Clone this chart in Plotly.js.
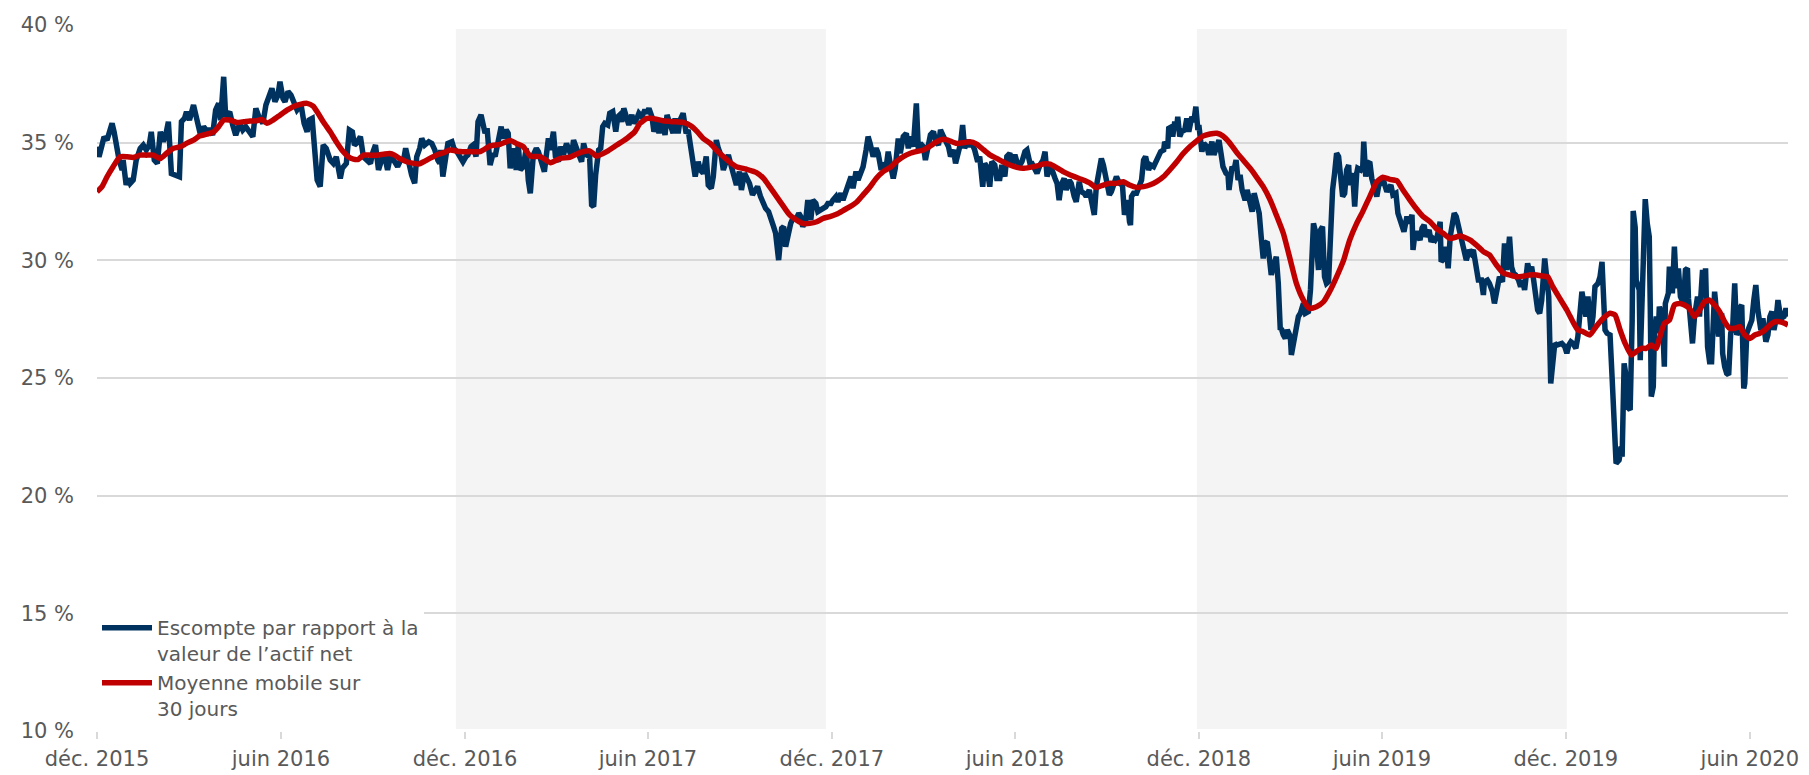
<!DOCTYPE html>
<html>
<head>
<meta charset="utf-8">
<script src="https://cdn.plot.ly/plotly-3.0.1.min.js"></script>
<style>
html,body{margin:0;padding:0;background:#ffffff;}
#chart{width:1809px;height:775px;}
</style>
</head>
<body>
<div id="chart"></div>
<script>
// Series start date; x values below are day offsets from this date
const startDate = '2015-12-01';

// Escompte par rapport à la valeur de l'actif net: [day offset, %]
const discountSeries = [
[0,34.83],[2,34.40],[5,34.90],[7,35.25],[10,35.11],[12,35.46],[15,35.82],[17,35.46],[20,34.69],[22,34.26],
[25,33.84],[26,34.26],[29,33.20],[31,33.48],[33,33.27],[36,33.41],[39,34.26],[43,34.76],[46,34.90],[49,34.69],
[52,34.90],[54,35.46],[57,34.26],[60,34.12],[63,35.46],[66,35.04],[69,35.46],[71,35.89],[74,33.69],[78,33.62],
[82,33.55],[84,35.89],[87,36.03],[89,36.31],[92,35.96],[96,36.60],[98,36.24],[101,35.89],[103,35.32],[106,35.68],
[110,35.46],[112,35.61],[115,35.32],[118,36.39],[121,36.67],[123,35.96],[126,37.80],[128,36.10],[132,36.31],[135,35.75],
[138,35.32],[142,35.82],[145,35.54],[148,35.68],[152,35.46],[155,35.25],[158,36.46],[161,36.10],[165,35.82],[168,36.60],
[171,36.95],[174,37.31],[177,36.74],[180,37.02],[182,37.59],[185,36.88],[187,36.74],[190,37.17],[193,37.02],[196,36.67],
[199,36.39],[203,36.60],[206,35.82],[209,35.46],[211,35.96],[214,36.03],[217,33.98],[219,33.41],[222,33.13],[225,34.90],
[228,34.76],[232,34.26],[235,34.12],[238,34.40],[242,33.48],[244,33.91],[248,34.12],[251,35.54],[254,35.46],[256,34.90],
[258,34.97],[262,35.25],[265,34.40],[268,34.26],[272,34.12],[274,34.54],[277,34.90],[280,33.84],[283,34.26],[286,34.47],
[289,33.84],[292,34.47],[296,34.19],[299,33.98],[302,34.26],[305,34.26],[307,34.76],[310,34.12],[313,33.62],[316,33.27],
[318,34.40],[321,34.76],[323,35.18],[326,34.90],[330,35.04],[333,34.97],[336,34.69],[339,34.26],[341,34.12],
[342,34.69],[344,33.56],[347,34.41],[349,34.97],[353,35.04],[355,34.76],[358,34.62],[361,34.41],[364,34.19],[367,34.41],
[369,34.48],[372,34.83],[374,34.90],[377,34.41],[379,35.89],[382,36.18],[384,35.82],[386,35.40],[388,35.61],[391,34.05],
[394,34.55],[396,34.41],[399,35.04],[402,35.68],[404,35.18],[407,35.54],[409,35.40],[411,33.91],[414,34.76],[417,33.84],
[419,34.90],[421,33.84],[424,33.98],[427,34.76],[429,33.41],[431,32.85],[434,34.48],[437,34.76],[439,34.62],[442,34.26],
[445,33.77],[447,34.48],[449,35.18],[451,34.69],[454,35.47],[456,34.41],[459,34.19],[461,34.83],[464,34.48],[467,34.97],
[470,34.55],[472,34.41],[474,35.11],[477,34.83],[480,34.41],[482,34.19],[484,34.97],[487,34.48],[490,34.41],[492,32.35],
[494,32.28],[496,33.63],[499,34.69],[501,34.76],[503,35.68],[505,35.82],[508,35.75],[510,36.25],[513,36.32],[516,35.47],
[518,36.10],[520,36.18],[522,35.89],[524,36.46],[527,35.96],[529,35.75],[532,36.18],[534,35.82],[537,36.03],[539,36.25],
[542,36.10],[545,36.39],[547,36.25],[549,36.46],[552,36.10],[554,35.47],[557,35.89],[559,35.40],[562,35.96],[565,35.33],
[567,36.18],[570,35.68],[573,35.40],[575,36.03],[578,35.40],[580,35.96],[583,36.25],[586,35.40],[588,35.54],[590,34.97],
[593,33.98],[595,33.56],[598,34.19],[600,33.84],[603,33.70],[606,34.41],[608,33.20],[611,33.06],[613,33.56],[616,35.11],
[618,34.76],[621,34.41],[623,33.84],[626,34.26],[628,34.48],[631,33.98],[634,33.48],[636,33.20],[639,33.77],[641,32.99],
[644,33.70],[647,33.41],[649,33.27],[652,32.78],[655,32.99],[657,33.13],[660,32.71],[663,32.42],[665,32.21],[668,32.07],
[670,31.86],[673,31.43],[675,31.15],[678,30.01],
[681,31.36],[683,31.43],[685,30.58],[688,31.29],[690,31.57],[693,31.86],[695,31.71],[698,32.00],[700,31.86],[702,31.43],
[705,31.71],[707,32.56],[710,31.71],[712,32.56],[715,32.42],[717,32.07],[720,32.14],[722,32.21],[725,32.28],[727,32.42],
[730,32.42],[732,32.56],[735,32.71],[737,32.49],[740,32.85],[742,32.56],[745,32.99],[747,33.13],[750,33.56],[752,33.06],
[755,33.77],[757,33.41],[760,33.84],[762,33.98],[765,34.69],[767,35.26],[769,34.97],[772,34.41],[775,34.76],[777,34.55],
[780,33.84],[782,34.12],[785,33.98],[787,34.62],[789,34.12],[792,33.48],[794,33.91],[797,35.18],[799,34.55],[802,35.26],
[805,35.40],[807,34.76],[809,35.26],[812,34.83],[815,36.67],[817,34.69],[819,34.97],[822,34.83],[824,34.26],[827,34.90],
[829,35.33],[832,35.47],[834,35.11],[837,34.90],[839,35.54],[842,35.26],[844,35.04],[847,34.83],[849,34.41],[852,34.69],
[854,34.12],[857,34.69],[859,34.97],[861,35.75],[863,34.76],[866,35.11],[868,34.90],[871,34.90],[873,34.69],[876,34.19],
[878,34.41],[881,33.13],[883,34.12],[885,33.98],[888,33.13],[890,34.19],[893,34.05],[895,33.48],[898,33.48],[900,34.05],
[903,33.56],[905,34.41],[908,34.55],[910,34.05],[913,34.48],[915,34.19],[918,34.05],[920,34.19],[923,34.62],[925,34.69],
[928,34.12],[930,34.12],[933,33.84],[935,33.70],[938,34.05],[941,34.26],[943,34.62],[945,33.56],[948,33.98],[950,33.84],
[953,33.48],[955,33.27],[957,32.56],[959,33.20],[962,33.48],[964,32.99],[967,33.41],[969,33.27],[972,32.71],[974,32.49],
[977,33.34],[979,32.92],[982,32.85],[984,32.71],[987,32.99],[989,32.56],[992,31.93],[994,33.13],[997,33.84],[999,34.33],
[1001,34.05],[1004,33.41],[1007,32.78],[1009,32.92],[1011,33.13],[1014,33.56],[1017,33.27],
[1020,33.20],[1022,31.93],[1025,32.56],[1027,31.64],[1028,31.50],[1029,32.71],[1031,32.85],[1034,32.85],[1037,33.13],[1039,33.41],
[1041,34.26],[1043,34.41],[1046,33.84],[1048,34.05],[1051,33.98],[1053,34.19],[1056,34.41],[1058,34.62],[1061,34.69],[1062,35.04],
[1065,34.76],[1066,35.61],[1069,35.68],[1070,35.26],[1072,35.89],[1074,35.68],[1075,36.10],[1077,35.26],[1079,35.47],[1082,35.54],
[1084,36.03],[1086,35.47],[1089,36.10],[1091,35.89],[1093,36.53],[1095,35.54],[1096,35.75],[1099,34.62],[1101,34.97],[1104,34.83],
[1106,34.48],[1109,35.04],[1111,34.48],[1114,34.97],[1116,35.11],[1118,34.55],[1120,33.98],[1123,33.70],[1125,33.63],[1126,32.99],
[1129,33.98],[1131,33.84],[1133,34.26],[1135,33.41],[1137,33.63],[1139,32.99],[1142,32.56],[1144,32.99],[1147,32.42],[1149,32.07],
[1151,32.85],[1153,32.56],[1156,32.00],[1158,31.00],[1160,30.08],[1162,30.72],[1164,30.79],[1166,30.15],[1168,29.38],[1171,29.87],
[1173,30.15],[1175,29.02],[1177,27.04],[1178,27.11],[1180,26.83],[1182,26.68],[1184,27.04],[1187,26.76],[1188,25.98],[1190,26.47],
[1191,26.90],[1193,27.46],[1195,27.61],[1197,27.75],[1200,28.17],[1202,27.75],[1205,27.82],[1207,28.74],[1209,30.15],[1210,31.57],
[1212,31.22],[1215,29.59],[1217,31.29],[1219,31.43],[1221,29.30],[1223,29.02],[1225,29.09],[1227,31.57],[1229,32.99],[1231,33.70],
[1233,34.55],[1235,34.41],[1237,33.70],[1239,32.71],[1241,32.85],[1243,33.84],[1245,34.05],[1246,33.20],[1249,33.70],[1251,32.28],
[1253,33.70],[1254,33.91],[1257,33.84],[1259,33.98],[1260,35.04],[1262,33.56],[1264,34.12],[1266,34.19],[1268,33.48],[1270,33.20],
[1273,32.71],[1275,33.20],[1278,33.27],[1280,33.34],[1283,32.92],[1285,33.13],[1287,33.20],[1289,32.78],[1292,32.85],[1294,32.00],
[1296,31.71],[1298,31.50],[1300,31.22],[1303,31.86],[1305,31.57],[1308,31.93],[1309,30.44],[1311,31.15],[1313,31.15],[1316,30.86],
[1318,31.36],[1320,31.50],[1322,31.00],[1325,31.29],[1327,30.79],[1329,30.93],[1331,30.86],[1333,31.00],[1336,31.64],[1337,29.94],
[1340,30.08],[1342,30.58],[1344,29.66],[1346,31.00],[1348,31.64],[1350,32.00],[1352,31.86],[1355,31.29],
[1357,30.86],[1360,30.15],[1362,30.01],[1365,30.44],[1367,30.30],[1369,30.44],[1372,29.59],[1374,29.16],[1377,29.16],[1379,28.53],
[1380,29.09],[1383,29.16],[1385,29.02],[1388,28.67],[1390,28.17],[1393,28.88],[1395,29.30],[1398,29.09],[1400,30.72],[1402,29.59],
[1405,31.00],[1407,29.73],[1409,29.45],[1411,29.38],[1414,29.16],[1416,28.88],[1418,29.16],[1420,28.74],[1423,29.87],[1425,29.52],
[1427,29.73],[1429,29.16],[1431,28.31],[1433,27.89],[1435,27.75],[1437,28.31],[1440,30.08],[1442,29.45],[1444,28.46],[1446,24.77],
[1448,25.62],[1450,26.47],[1452,26.40],[1455,26.47],[1457,26.47],[1460,26.33],[1462,26.05],[1464,26.40],[1466,26.54],[1468,26.47],
[1471,26.26],[1473,26.76],[1475,28.17],[1477,28.67],[1479,28.17],[1481,27.61],[1483,28.46],[1486,27.04],[1488,27.61],[1490,28.88],
[1493,29.02],[1495,29.30],[1497,29.94],[1499,28.31],[1500,27.04],[1502,26.90],[1505,26.83],[1507,25.06],[1509,23.21],[1511,21.37],
[1514,21.51],[1516,22.08],[1517,21.66],[1519,25.62],[1521,25.06],[1522,23.78],[1525,23.64],[1527,27.46],[1528,32.10],[1530,31.40],
[1531,29.16],[1534,28.74],[1535,25.76],[1537,28.17],[1539,29.87],[1540,32.60],[1542,31.57],[1544,31.00],[1545,28.03],[1546,24.21],
[1548,24.63],[1549,26.76],[1551,27.61],[1553,26.90],[1554,28.03],[1557,27.61],[1559,25.48],[1560,28.17],[1563,28.60],[1564,29.73],
[1567,28.60],[1569,30.58],[1571,28.81],[1573,29.66],[1575,28.46],[1578,28.17],[1580,29.59],[1582,29.66],[1583,28.38],[1585,27.61],
[1587,26.47],[1589,27.61],[1592,28.46],[1594,27.61],[1597,29.59],[1599,28.81],[1600,29.66],[1602,26.33],[1604,25.69],[1606,25.69],
[1607,26.61],[1609,28.67],[1611,27.75],[1613,26.76],[1616,27.75],[1617,26.05],[1619,25.48],[1621,25.20],[1623,25.13],[1625,26.90],
[1627,27.18],[1629,29.02],[1631,26.83],[1633,27.04],[1635,28.03],[1636,28.10],[1638,24.56],[1639,24.77],[1641,26.90],[1643,27.18],
[1646,27.46],[1648,28.31],[1650,28.95],[1652,27.89],[1655,27.04],[1657,27.53],[1660,26.54],[1662,26.83],[1664,27.61],[1666,27.82],
[1668,27.04],[1670,27.46],[1672,28.31],[1674,27.75],[1675,27.53],[1678,27.61],[1680,27.96],[1682,27.61]
];

// Moyenne mobile sur 30 jours: [day offset, %]
const movingAvgSeries = [
[0,32.91],[5,33.13],[10,33.55],[16,33.98],[23,34.40],[30,34.40],[36,34.37],[43,34.47],[49,34.47],[56,34.47],
[63,34.33],[69,34.54],[76,34.76],[83,34.83],[89,34.97],[96,35.11],[102,35.28],[109,35.36],[116,35.46],[121,35.68],
[126,35.96],[132,35.96],[139,35.86],[146,35.89],[152,35.92],[159,35.93],[164,35.99],[169,35.82],[175,35.96],[182,36.17],
[189,36.38],[195,36.53],[202,36.63],[209,36.67],[215,36.55],[220,36.24],[225,35.89],[232,35.46],[238,35.04],[245,34.61],
[250,34.40],[255,34.30],[260,34.29],[265,34.47],[272,34.47],[278,34.47],[285,34.51],[291,34.54],[296,34.47],[301,34.33],
[308,34.19],[315,34.12],[320,34.09],[325,34.19],[331,34.33],[339,34.50],
[345,34.58],[351,34.69],[361,34.62],[371,34.62],[381,34.62],[391,34.86],[401,34.93],[411,35.09],[417,34.97],[424,34.83],
[431,34.43],[441,34.41],[451,34.15],[461,34.33],[470,34.38],[480,34.57],[490,34.65],[497,34.43],[507,34.62],[517,34.90],
[527,35.18],[535,35.47],[540,35.82],[547,36.03],[553,36.03],[563,35.93],[573,35.89],[583,35.86],[591,35.71],[597,35.47],
[603,35.18],[610,34.97],[616,34.69],[623,34.41],[630,34.15],[636,33.98],[646,33.87],[656,33.73],[663,33.48],[669,33.13],
[676,32.71],[683,32.28],[689,31.93],[696,31.71],[702,31.57],[709,31.57],[716,31.64],[722,31.78],[729,31.86],[736,31.97],
[742,32.11],[749,32.28],[756,32.49],[762,32.78],[769,33.13],[775,33.48],[782,33.77],[789,33.95],[795,34.19],[802,34.41],
[809,34.55],[815,34.62],[822,34.69],[828,34.83],[835,35.04],[842,35.14],[848,35.08],[855,34.97],[862,35.00],[868,35.04],
[875,34.94],[882,34.69],[888,34.48],[895,34.33],[901,34.19],[908,34.05],[915,33.95],[921,33.91],[928,33.95],[935,34.01],
[941,34.09],[948,34.09],[954,33.95],[961,33.77],[968,33.63],[974,33.53],[981,33.41],[988,33.27],[994,33.09],[1001,33.20],
[1007,33.27],[1014,33.27],[1021,33.34],[1027,33.20],[1034,33.10],[1041,33.13],[1047,33.20],[1054,33.34],[1061,33.56],[1067,33.84],
[1074,34.19],[1080,34.52],[1087,34.83],[1094,35.08],[1100,35.28],[1107,35.37],[1114,35.40],[1120,35.28],[1127,34.97],[1133,34.62],
[1140,34.26],[1147,33.91],[1153,33.56],[1160,33.13],[1167,32.56],[1173,31.93],[1180,31.15],[1187,30.01],[1193,29.02],[1200,28.31],
[1206,27.96],[1213,28.03],[1220,28.24],[1226,28.67],[1233,29.30],[1240,30.01],[1246,30.86],[1253,31.57],[1259,32.07],[1266,32.71],
[1273,33.34],[1279,33.53],[1286,33.44],[1293,33.38],[1299,32.99],[1306,32.56],[1312,32.21],[1319,31.86],[1326,31.64],[1332,31.36],
[1339,31.15],[1346,30.93],[1356,31.03],[1366,30.86],[1372,30.65],[1379,30.37],[1385,30.23],[1392,29.80],[1399,29.45],[1405,29.38],
[1412,29.30],[1419,29.33],[1425,29.38],[1432,29.38],[1438,29.33],[1443,29.30],[1448,28.88],[1455,28.38],[1462,27.89],[1468,27.39],
[1473,27.04],[1478,26.97],[1485,26.83],[1491,27.18],[1498,27.53],[1505,27.75],[1510,27.68],[1515,27.04],[1520,26.47],[1526,25.98],
[1531,26.12],[1536,26.26],[1541,26.26],[1546,26.40],[1551,26.26],[1554,26.68],[1559,27.32],[1564,27.46],[1569,28.10],[1574,28.17],
[1579,28.10],[1584,27.96],[1589,27.61],[1594,27.89],[1599,28.24],[1604,28.31],[1609,28.10],[1614,27.82],[1619,27.39],[1624,27.11],
[1629,27.11],[1634,27.18],[1639,26.83],[1644,26.68],[1649,26.83],[1654,26.90],[1659,27.04],[1664,27.25],[1669,27.39],[1674,27.39],
[1679,27.32],[1682,27.25]
];

const seriesNames = ['Escompte par rapport à la<br>valeur de l’actif net', 'Moyenne mobile sur<br>30 jours'];
const tickDates = ['2015-12-01','2016-06-01','2016-12-01','2017-06-01','2017-12-01','2018-06-01','2018-12-01','2019-06-01','2019-12-01','2020-06-01'];
const tickLabels = ['déc. 2015','juin 2016','déc. 2016','juin 2017','déc. 2017','juin 2018','déc. 2018','juin 2019','déc. 2019','juin 2020'];
const yTicks = [10, 15, 20, 25, 30, 35, 40];
const yTickLabels = ['10 %', '15 %', '20 %', '25 %', '30 %', '35 %', '40 %'];
const shadedPeriods = [['2016-11-22','2017-11-25'], ['2018-11-29','2019-12-02']];
const xRange = ['2015-12-01', '2020-07-09'];

function toDate(offset) {
  const base = Date.parse(startDate + 'T00:00:00Z');
  return new Date(base + offset * 86400000).toISOString().slice(0, 10);
}

const FONT = 'DejaVu Sans, sans-serif';
const TEXT = '#595959';

const traces = [
  {
    x: discountSeries.map(p => toDate(p[0])),
    y: discountSeries.map(p => p[1]),
    type: 'scatter', mode: 'lines', name: seriesNames[0],
    line: {color: '#00325f', width: 5.5}
  },
  {
    x: movingAvgSeries.map(p => toDate(p[0])),
    y: movingAvgSeries.map(p => p[1]),
    type: 'scatter', mode: 'lines', name: seriesNames[1],
    line: {color: '#c00000', width: 5.5, shape: 'spline', smoothing: 0.5}
  }
];

const shapes = shadedPeriods.map(p => ({
  type: 'rect', xref: 'x', yref: 'y', x0: p[0], x1: p[1], y0: 10.08, y1: 39.83,
  fillcolor: '#f4f4f4', line: {width: 0}, layer: 'below'
}));

const layout = {
  width: 1809, height: 775,
  margin: {l: 97, r: 21, t: 25, b: 44},
  paper_bgcolor: '#ffffff', plot_bgcolor: 'rgba(0,0,0,0)',
  font: {family: FONT, size: 21, color: TEXT},
  showlegend: true,
  legend: {
    x: 0, y: 0.004, xanchor: 'left', yanchor: 'bottom',
    bgcolor: '#ffffff', borderwidth: 0,
    font: {family: FONT, size: 20, color: TEXT},
    valign: 'top', itemwidth: 50, tracegroupgap: 0
  },
  xaxis: {
    type: 'date', range: xRange,
    tickmode: 'array', tickvals: tickDates, ticktext: tickLabels,
    showgrid: false, zeroline: false, showline: false,
    ticks: 'outside', ticklen: 7, tickwidth: 2, tickcolor: '#d9d9d9',
    ticklabelstandoff: 2,
    tickfont: {family: FONT, size: 21, color: TEXT}
  },
  yaxis: {
    range: [10, 40], tickmode: 'array', tickvals: yTicks, ticktext: yTickLabels,
    showgrid: true, gridcolor: '#d9d9d9', gridwidth: 2,
    zeroline: false, showline: false, ticks: '',
    ticklabelstandoff: 22,
    tickfont: {family: FONT, size: 21, color: TEXT}
  },
  shapes: shapes
};

Plotly.newPlot('chart', traces, layout, {displayModeBar: false, staticPlot: true});
</script>
</body>
</html>
